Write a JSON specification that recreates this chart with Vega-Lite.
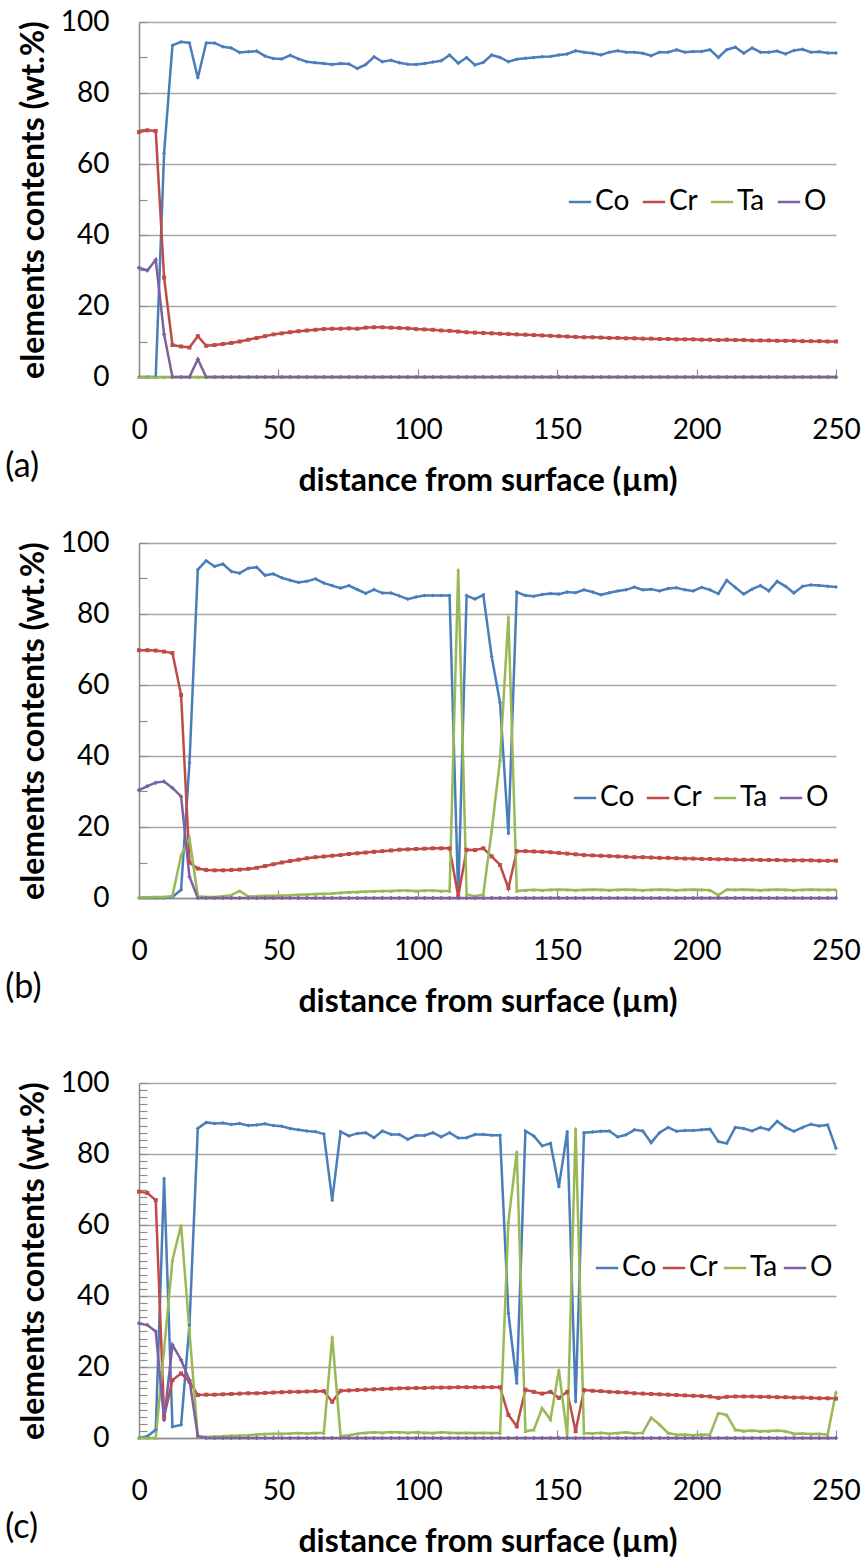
{
"$schema": "https://vega.github.io/schema/vega-lite/v6.json",
"padding": {"left": 5, "top": 8, "right": 5, "bottom": 0},
"background": "white",
"datasets": {"d": [
{"p":"a","x":0,"Co":0,"Cr":69.0,"Ta":0,"O":30.8},
{"p":"a","x":3,"Co":0,"Cr":69.5,"Ta":0,"O":30.0},
{"p":"a","x":6,"Co":0,"Cr":69.3,"Ta":0,"O":33.0},
{"p":"a","x":9,"Co":63,"Cr":28.0,"Ta":0,"O":12.0},
{"p":"a","x":12,"Co":93.4,"Cr":9.0,"Ta":0,"O":0},
{"p":"a","x":15.1,"Co":94.4,"Cr":8.6,"Ta":0,"O":0},
{"p":"a","x":18.1,"Co":94.1,"Cr":8.3,"Ta":0,"O":0},
{"p":"a","x":21.1,"Co":84.3,"Cr":11.5,"Ta":0,"O":5.0},
{"p":"a","x":24.1,"Co":94.1,"Cr":8.8,"Ta":0,"O":0},
{"p":"a","x":27.1,"Co":94.1,"Cr":9.0,"Ta":0,"O":0},
{"p":"a","x":30.1,"Co":93.0,"Cr":9.3,"Ta":0,"O":0},
{"p":"a","x":33.1,"Co":92.7,"Cr":9.6,"Ta":0,"O":0},
{"p":"a","x":36.1,"Co":91.4,"Cr":10.0,"Ta":0,"O":0},
{"p":"a","x":39.2,"Co":91.6,"Cr":10.5,"Ta":0,"O":0},
{"p":"a","x":42.2,"Co":91.8,"Cr":11.0,"Ta":0,"O":0},
{"p":"a","x":45.2,"Co":90.4,"Cr":11.5,"Ta":0,"O":0},
{"p":"a","x":48.2,"Co":89.7,"Cr":12.0,"Ta":0,"O":0},
{"p":"a","x":51.2,"Co":89.6,"Cr":12.3,"Ta":0,"O":0},
{"p":"a","x":54.2,"Co":90.6,"Cr":12.6,"Ta":0,"O":0},
{"p":"a","x":57.2,"Co":89.6,"Cr":12.9,"Ta":0,"O":0},
{"p":"a","x":60.2,"Co":88.8,"Cr":13.1,"Ta":0,"O":0},
{"p":"a","x":63.3,"Co":88.5,"Cr":13.3,"Ta":0,"O":0},
{"p":"a","x":66.3,"Co":88.3,"Cr":13.5,"Ta":0,"O":0},
{"p":"a","x":69.3,"Co":88.0,"Cr":13.6,"Ta":0,"O":0},
{"p":"a","x":72.3,"Co":88.3,"Cr":13.6,"Ta":0,"O":0},
{"p":"a","x":75.3,"Co":88.2,"Cr":13.7,"Ta":0,"O":0},
{"p":"a","x":78.3,"Co":86.9,"Cr":13.6,"Ta":0,"O":0},
{"p":"a","x":81.3,"Co":88.0,"Cr":13.9,"Ta":0,"O":0},
{"p":"a","x":84.3,"Co":90.2,"Cr":14.0,"Ta":0,"O":0},
{"p":"a","x":87.3,"Co":88.8,"Cr":14.0,"Ta":0,"O":0},
{"p":"a","x":90.4,"Co":89.2,"Cr":13.9,"Ta":0,"O":0},
{"p":"a","x":93.4,"Co":88.5,"Cr":13.8,"Ta":0,"O":0},
{"p":"a","x":96.4,"Co":88.1,"Cr":13.7,"Ta":0,"O":0},
{"p":"a","x":99.4,"Co":88.0,"Cr":13.5,"Ta":0,"O":0},
{"p":"a","x":102.4,"Co":88.3,"Cr":13.4,"Ta":0,"O":0},
{"p":"a","x":105.4,"Co":88.7,"Cr":13.3,"Ta":0,"O":0},
{"p":"a","x":108.4,"Co":89.1,"Cr":13.1,"Ta":0,"O":0},
{"p":"a","x":111.4,"Co":90.7,"Cr":13.0,"Ta":0,"O":0},
{"p":"a","x":114.5,"Co":88.4,"Cr":12.8,"Ta":0,"O":0},
{"p":"a","x":117.5,"Co":90.0,"Cr":12.6,"Ta":0,"O":0},
{"p":"a","x":120.5,"Co":87.9,"Cr":12.5,"Ta":0,"O":0},
{"p":"a","x":123.5,"Co":88.6,"Cr":12.4,"Ta":0,"O":0},
{"p":"a","x":126.5,"Co":90.7,"Cr":12.3,"Ta":0,"O":0},
{"p":"a","x":129.5,"Co":90.0,"Cr":12.2,"Ta":0,"O":0},
{"p":"a","x":132.5,"Co":88.8,"Cr":12.1,"Ta":0,"O":0},
{"p":"a","x":135.5,"Co":89.5,"Cr":12.0,"Ta":0,"O":0},
{"p":"a","x":138.6,"Co":89.8,"Cr":11.9,"Ta":0,"O":0},
{"p":"a","x":141.6,"Co":90.0,"Cr":11.8,"Ta":0,"O":0},
{"p":"a","x":144.6,"Co":90.2,"Cr":11.7,"Ta":0,"O":0},
{"p":"a","x":147.6,"Co":90.3,"Cr":11.6,"Ta":0,"O":0},
{"p":"a","x":150.6,"Co":90.7,"Cr":11.5,"Ta":0,"O":0},
{"p":"a","x":153.6,"Co":91.0,"Cr":11.4,"Ta":0,"O":0},
{"p":"a","x":156.6,"Co":91.9,"Cr":11.3,"Ta":0,"O":0},
{"p":"a","x":159.6,"Co":91.5,"Cr":11.2,"Ta":0,"O":0},
{"p":"a","x":162.7,"Co":91.2,"Cr":11.2,"Ta":0,"O":0},
{"p":"a","x":165.7,"Co":90.7,"Cr":11.1,"Ta":0,"O":0},
{"p":"a","x":168.7,"Co":91.5,"Cr":11.0,"Ta":0,"O":0},
{"p":"a","x":171.7,"Co":91.9,"Cr":11.0,"Ta":0,"O":0},
{"p":"a","x":174.7,"Co":91.5,"Cr":10.9,"Ta":0,"O":0},
{"p":"a","x":177.7,"Co":91.5,"Cr":10.9,"Ta":0,"O":0},
{"p":"a","x":180.7,"Co":91.2,"Cr":10.8,"Ta":0,"O":0},
{"p":"a","x":183.7,"Co":90.5,"Cr":10.8,"Ta":0,"O":0},
{"p":"a","x":186.7,"Co":91.5,"Cr":10.7,"Ta":0,"O":0},
{"p":"a","x":189.8,"Co":91.5,"Cr":10.7,"Ta":0,"O":0},
{"p":"a","x":192.8,"Co":92.2,"Cr":10.6,"Ta":0,"O":0},
{"p":"a","x":195.8,"Co":91.5,"Cr":10.6,"Ta":0,"O":0},
{"p":"a","x":198.8,"Co":91.7,"Cr":10.6,"Ta":0,"O":0},
{"p":"a","x":201.8,"Co":91.7,"Cr":10.5,"Ta":0,"O":0},
{"p":"a","x":204.8,"Co":92.2,"Cr":10.5,"Ta":0,"O":0},
{"p":"a","x":207.8,"Co":90.0,"Cr":10.4,"Ta":0,"O":0},
{"p":"a","x":210.8,"Co":92.2,"Cr":10.5,"Ta":0,"O":0},
{"p":"a","x":213.9,"Co":92.9,"Cr":10.4,"Ta":0,"O":0},
{"p":"a","x":216.9,"Co":91.2,"Cr":10.4,"Ta":0,"O":0},
{"p":"a","x":219.9,"Co":92.7,"Cr":10.3,"Ta":0,"O":0},
{"p":"a","x":222.9,"Co":91.5,"Cr":10.3,"Ta":0,"O":0},
{"p":"a","x":225.9,"Co":91.5,"Cr":10.3,"Ta":0,"O":0},
{"p":"a","x":228.9,"Co":91.8,"Cr":10.2,"Ta":0,"O":0},
{"p":"a","x":231.9,"Co":91.0,"Cr":10.2,"Ta":0,"O":0},
{"p":"a","x":234.9,"Co":92.0,"Cr":10.2,"Ta":0,"O":0},
{"p":"a","x":238,"Co":92.3,"Cr":10.1,"Ta":0,"O":0},
{"p":"a","x":241,"Co":91.5,"Cr":10.1,"Ta":0,"O":0},
{"p":"a","x":244,"Co":91.6,"Cr":10.1,"Ta":0,"O":0},
{"p":"a","x":247,"Co":91.3,"Cr":10.0,"Ta":0,"O":0},
{"p":"a","x":250,"Co":91.3,"Cr":10.0,"Ta":0,"O":0},
{"p":"b","x":0,"Co":0,"Cr":69.8,"Ta":0.2,"O":30.4},
{"p":"b","x":3,"Co":0,"Cr":69.8,"Ta":0.2,"O":31.5},
{"p":"b","x":6,"Co":0,"Cr":69.7,"Ta":0.3,"O":32.5},
{"p":"b","x":9,"Co":0,"Cr":69.4,"Ta":0.3,"O":32.8},
{"p":"b","x":12,"Co":0.3,"Cr":69.0,"Ta":0.6,"O":31.0},
{"p":"b","x":15.1,"Co":2.3,"Cr":57.2,"Ta":12.1,"O":28.6},
{"p":"b","x":18.1,"Co":38,"Cr":10.0,"Ta":16.8,"O":6.0},
{"p":"b","x":21.1,"Co":92.5,"Cr":8.3,"Ta":0.5,"O":0},
{"p":"b","x":24.1,"Co":95.0,"Cr":7.9,"Ta":0.3,"O":0},
{"p":"b","x":27.1,"Co":93.4,"Cr":7.8,"Ta":0.3,"O":0},
{"p":"b","x":30.1,"Co":94.1,"Cr":7.8,"Ta":0.5,"O":0},
{"p":"b","x":33.1,"Co":92.0,"Cr":7.9,"Ta":0.8,"O":0},
{"p":"b","x":36.1,"Co":91.5,"Cr":8.0,"Ta":2.0,"O":0},
{"p":"b","x":39.2,"Co":92.9,"Cr":8.2,"Ta":0.4,"O":0},
{"p":"b","x":42.2,"Co":93.2,"Cr":8.5,"Ta":0.5,"O":0},
{"p":"b","x":45.2,"Co":90.9,"Cr":9.0,"Ta":0.6,"O":0},
{"p":"b","x":48.2,"Co":91.3,"Cr":9.5,"Ta":0.6,"O":0},
{"p":"b","x":51.2,"Co":90.2,"Cr":10.0,"Ta":0.7,"O":0},
{"p":"b","x":54.2,"Co":89.5,"Cr":10.4,"Ta":0.8,"O":0},
{"p":"b","x":57.2,"Co":88.9,"Cr":10.8,"Ta":0.9,"O":0},
{"p":"b","x":60.2,"Co":89.2,"Cr":11.2,"Ta":1.0,"O":0},
{"p":"b","x":63.3,"Co":89.9,"Cr":11.5,"Ta":1.1,"O":0},
{"p":"b","x":66.3,"Co":88.7,"Cr":11.7,"Ta":1.2,"O":0},
{"p":"b","x":69.3,"Co":88.0,"Cr":11.9,"Ta":1.3,"O":0},
{"p":"b","x":72.3,"Co":87.3,"Cr":12.1,"Ta":1.5,"O":0},
{"p":"b","x":75.3,"Co":88.0,"Cr":12.4,"Ta":1.6,"O":0},
{"p":"b","x":78.3,"Co":86.9,"Cr":12.6,"Ta":1.7,"O":0},
{"p":"b","x":81.3,"Co":85.8,"Cr":12.8,"Ta":1.8,"O":0},
{"p":"b","x":84.3,"Co":86.9,"Cr":13.0,"Ta":1.9,"O":0},
{"p":"b","x":87.3,"Co":85.9,"Cr":13.2,"Ta":2.0,"O":0},
{"p":"b","x":90.4,"Co":85.9,"Cr":13.4,"Ta":2.0,"O":0},
{"p":"b","x":93.4,"Co":85.1,"Cr":13.6,"Ta":2.1,"O":0},
{"p":"b","x":96.4,"Co":84.2,"Cr":13.7,"Ta":2.1,"O":0},
{"p":"b","x":99.4,"Co":84.8,"Cr":13.8,"Ta":2.0,"O":0},
{"p":"b","x":102.4,"Co":85.2,"Cr":13.9,"Ta":2.1,"O":0},
{"p":"b","x":105.4,"Co":85.2,"Cr":14.0,"Ta":2.1,"O":0},
{"p":"b","x":108.4,"Co":85.2,"Cr":14.0,"Ta":2.0,"O":0},
{"p":"b","x":111.4,"Co":85.2,"Cr":14.0,"Ta":2.0,"O":0},
{"p":"b","x":114.5,"Co":0,"Cr":0.5,"Ta":92.5,"O":0},
{"p":"b","x":117.5,"Co":85.2,"Cr":13.6,"Ta":1.0,"O":0},
{"p":"b","x":120.5,"Co":84.2,"Cr":13.5,"Ta":0.5,"O":0},
{"p":"b","x":123.5,"Co":85.4,"Cr":14.0,"Ta":1.0,"O":0},
{"p":"b","x":126.5,"Co":68.0,"Cr":11.7,"Ta":19.0,"O":0},
{"p":"b","x":129.5,"Co":55.0,"Cr":9.3,"Ta":39.0,"O":0},
{"p":"b","x":132.5,"Co":18.2,"Cr":2.8,"Ta":79.3,"O":0},
{"p":"b","x":135.5,"Co":86.2,"Cr":13.2,"Ta":2.0,"O":0},
{"p":"b","x":138.6,"Co":85.2,"Cr":13.2,"Ta":2.2,"O":0},
{"p":"b","x":141.6,"Co":85.0,"Cr":13.1,"Ta":2.3,"O":0},
{"p":"b","x":144.6,"Co":85.5,"Cr":13.0,"Ta":2.2,"O":0},
{"p":"b","x":147.6,"Co":85.8,"Cr":12.9,"Ta":2.3,"O":0},
{"p":"b","x":150.6,"Co":85.6,"Cr":12.7,"Ta":2.4,"O":0},
{"p":"b","x":153.6,"Co":86.2,"Cr":12.5,"Ta":2.3,"O":0},
{"p":"b","x":156.6,"Co":86.0,"Cr":12.3,"Ta":2.2,"O":0},
{"p":"b","x":159.6,"Co":86.8,"Cr":12.1,"Ta":2.3,"O":0},
{"p":"b","x":162.7,"Co":86.2,"Cr":12.0,"Ta":2.4,"O":0},
{"p":"b","x":165.7,"Co":85.4,"Cr":11.9,"Ta":2.3,"O":0},
{"p":"b","x":168.7,"Co":86.0,"Cr":11.8,"Ta":2.2,"O":0},
{"p":"b","x":171.7,"Co":86.5,"Cr":11.7,"Ta":2.3,"O":0},
{"p":"b","x":174.7,"Co":86.8,"Cr":11.6,"Ta":2.4,"O":0},
{"p":"b","x":177.7,"Co":87.6,"Cr":11.5,"Ta":2.3,"O":0},
{"p":"b","x":180.7,"Co":86.8,"Cr":11.5,"Ta":2.2,"O":0},
{"p":"b","x":183.7,"Co":87.0,"Cr":11.4,"Ta":2.3,"O":0},
{"p":"b","x":186.7,"Co":86.5,"Cr":11.3,"Ta":2.4,"O":0},
{"p":"b","x":189.8,"Co":87.2,"Cr":11.3,"Ta":2.3,"O":0},
{"p":"b","x":192.8,"Co":87.4,"Cr":11.2,"Ta":2.2,"O":0},
{"p":"b","x":195.8,"Co":86.8,"Cr":11.1,"Ta":2.3,"O":0},
{"p":"b","x":198.8,"Co":86.5,"Cr":11.1,"Ta":2.4,"O":0},
{"p":"b","x":201.8,"Co":87.5,"Cr":11.0,"Ta":2.3,"O":0},
{"p":"b","x":204.8,"Co":86.8,"Cr":11.0,"Ta":2.2,"O":0},
{"p":"b","x":207.8,"Co":85.7,"Cr":10.9,"Ta":0.8,"O":0},
{"p":"b","x":210.8,"Co":89.5,"Cr":10.9,"Ta":2.4,"O":0},
{"p":"b","x":213.9,"Co":87.5,"Cr":10.8,"Ta":2.3,"O":0},
{"p":"b","x":216.9,"Co":85.6,"Cr":10.8,"Ta":2.4,"O":0},
{"p":"b","x":219.9,"Co":87.0,"Cr":10.8,"Ta":2.3,"O":0},
{"p":"b","x":222.9,"Co":88.0,"Cr":10.7,"Ta":2.2,"O":0},
{"p":"b","x":225.9,"Co":86.5,"Cr":10.7,"Ta":2.3,"O":0},
{"p":"b","x":228.9,"Co":89.2,"Cr":10.7,"Ta":2.4,"O":0},
{"p":"b","x":231.9,"Co":87.8,"Cr":10.6,"Ta":2.3,"O":0},
{"p":"b","x":234.9,"Co":85.9,"Cr":10.6,"Ta":2.2,"O":0},
{"p":"b","x":238,"Co":87.8,"Cr":10.6,"Ta":2.3,"O":0},
{"p":"b","x":241,"Co":88.2,"Cr":10.6,"Ta":2.4,"O":0},
{"p":"b","x":244,"Co":88.0,"Cr":10.5,"Ta":2.3,"O":0},
{"p":"b","x":247,"Co":87.8,"Cr":10.5,"Ta":2.3,"O":0},
{"p":"b","x":250,"Co":87.6,"Cr":10.5,"Ta":2.3,"O":0},
{"p":"c","x":0,"Co":0,"Cr":69.4,"Ta":0,"O":32.3},
{"p":"c","x":3,"Co":0.5,"Cr":69.0,"Ta":0,"O":31.8},
{"p":"c","x":6,"Co":2.3,"Cr":67.0,"Ta":0,"O":30.0},
{"p":"c","x":9,"Co":73.1,"Cr":6.0,"Ta":25.0,"O":5.1},
{"p":"c","x":12,"Co":3.2,"Cr":16.3,"Ta":50.1,"O":26.2},
{"p":"c","x":15.1,"Co":3.7,"Cr":18.2,"Ta":60.0,"O":22.0},
{"p":"c","x":18.1,"Co":31.8,"Cr":15.9,"Ta":30.0,"O":16.3},
{"p":"c","x":21.1,"Co":87.2,"Cr":12.1,"Ta":0.5,"O":0.5},
{"p":"c","x":24.1,"Co":88.9,"Cr":12.2,"Ta":0.3,"O":0},
{"p":"c","x":27.1,"Co":88.6,"Cr":12.2,"Ta":0.4,"O":0},
{"p":"c","x":30.1,"Co":88.7,"Cr":12.3,"Ta":0.5,"O":0},
{"p":"c","x":33.1,"Co":88.3,"Cr":12.4,"Ta":0.6,"O":0},
{"p":"c","x":36.1,"Co":88.6,"Cr":12.5,"Ta":0.7,"O":0},
{"p":"c","x":39.2,"Co":88.0,"Cr":12.6,"Ta":0.8,"O":0},
{"p":"c","x":42.2,"Co":88.2,"Cr":12.6,"Ta":1.0,"O":0},
{"p":"c","x":45.2,"Co":88.5,"Cr":12.7,"Ta":1.1,"O":0},
{"p":"c","x":48.2,"Co":88.0,"Cr":12.8,"Ta":1.2,"O":0},
{"p":"c","x":51.2,"Co":87.8,"Cr":12.9,"Ta":1.2,"O":0},
{"p":"c","x":54.2,"Co":87.2,"Cr":13.0,"Ta":1.3,"O":0},
{"p":"c","x":57.2,"Co":86.8,"Cr":13.0,"Ta":1.4,"O":0},
{"p":"c","x":60.2,"Co":86.5,"Cr":13.1,"Ta":1.3,"O":0},
{"p":"c","x":63.3,"Co":86.3,"Cr":13.2,"Ta":1.4,"O":0},
{"p":"c","x":66.3,"Co":85.6,"Cr":13.2,"Ta":1.4,"O":0},
{"p":"c","x":69.3,"Co":67.0,"Cr":10.2,"Ta":28.5,"O":0},
{"p":"c","x":72.3,"Co":86.3,"Cr":13.3,"Ta":0.5,"O":0},
{"p":"c","x":75.3,"Co":85.1,"Cr":13.4,"Ta":0.8,"O":0},
{"p":"c","x":78.3,"Co":85.8,"Cr":13.5,"Ta":1.2,"O":0},
{"p":"c","x":81.3,"Co":86.0,"Cr":13.6,"Ta":1.5,"O":0},
{"p":"c","x":84.3,"Co":84.6,"Cr":13.7,"Ta":1.6,"O":0},
{"p":"c","x":87.3,"Co":86.5,"Cr":13.8,"Ta":1.5,"O":0},
{"p":"c","x":90.4,"Co":85.5,"Cr":13.9,"Ta":1.7,"O":0},
{"p":"c","x":93.4,"Co":85.5,"Cr":14.0,"Ta":1.6,"O":0},
{"p":"c","x":96.4,"Co":84.1,"Cr":14.0,"Ta":1.5,"O":0},
{"p":"c","x":99.4,"Co":85.2,"Cr":14.1,"Ta":1.6,"O":0},
{"p":"c","x":102.4,"Co":85.2,"Cr":14.1,"Ta":1.5,"O":0},
{"p":"c","x":105.4,"Co":86.0,"Cr":14.2,"Ta":1.4,"O":0},
{"p":"c","x":108.4,"Co":84.8,"Cr":14.2,"Ta":1.6,"O":0},
{"p":"c","x":111.4,"Co":86.0,"Cr":14.2,"Ta":1.5,"O":0},
{"p":"c","x":114.5,"Co":84.5,"Cr":14.3,"Ta":1.4,"O":0},
{"p":"c","x":117.5,"Co":84.6,"Cr":14.3,"Ta":1.5,"O":0},
{"p":"c","x":120.5,"Co":85.5,"Cr":14.3,"Ta":1.4,"O":0},
{"p":"c","x":123.5,"Co":85.5,"Cr":14.3,"Ta":1.5,"O":0},
{"p":"c","x":126.5,"Co":85.3,"Cr":14.3,"Ta":1.4,"O":0},
{"p":"c","x":129.5,"Co":85.3,"Cr":14.3,"Ta":1.4,"O":0},
{"p":"c","x":132.5,"Co":35.1,"Cr":6.5,"Ta":60.9,"O":0},
{"p":"c","x":135.5,"Co":15.4,"Cr":3.3,"Ta":80.7,"O":0},
{"p":"c","x":138.6,"Co":86.5,"Cr":13.6,"Ta":1.9,"O":0},
{"p":"c","x":141.6,"Co":85.1,"Cr":13.0,"Ta":2.3,"O":0},
{"p":"c","x":144.6,"Co":82.3,"Cr":12.5,"Ta":8.4,"O":0},
{"p":"c","x":147.6,"Co":83.0,"Cr":13.0,"Ta":5.2,"O":0},
{"p":"c","x":150.6,"Co":70.8,"Cr":11.3,"Ta":19.2,"O":0},
{"p":"c","x":153.6,"Co":86.3,"Cr":13.0,"Ta":0.5,"O":0},
{"p":"c","x":156.6,"Co":10.2,"Cr":1.9,"Ta":87.2,"O":0},
{"p":"c","x":159.6,"Co":86.0,"Cr":13.5,"Ta":1.4,"O":0},
{"p":"c","x":162.7,"Co":86.2,"Cr":13.3,"Ta":1.3,"O":0},
{"p":"c","x":165.7,"Co":86.4,"Cr":13.2,"Ta":1.5,"O":0},
{"p":"c","x":168.7,"Co":86.5,"Cr":13.0,"Ta":1.2,"O":0},
{"p":"c","x":171.7,"Co":84.8,"Cr":12.9,"Ta":1.4,"O":0},
{"p":"c","x":174.7,"Co":85.4,"Cr":12.8,"Ta":1.6,"O":0},
{"p":"c","x":177.7,"Co":86.8,"Cr":12.6,"Ta":1.3,"O":0},
{"p":"c","x":180.7,"Co":86.5,"Cr":12.5,"Ta":1.5,"O":0},
{"p":"c","x":183.7,"Co":83.2,"Cr":12.4,"Ta":5.7,"O":0},
{"p":"c","x":186.7,"Co":86.0,"Cr":12.3,"Ta":3.8,"O":0},
{"p":"c","x":189.8,"Co":87.5,"Cr":12.2,"Ta":1.4,"O":0},
{"p":"c","x":192.8,"Co":86.4,"Cr":12.1,"Ta":0.9,"O":0},
{"p":"c","x":195.8,"Co":86.6,"Cr":12.0,"Ta":1.0,"O":0},
{"p":"c","x":198.8,"Co":86.6,"Cr":11.9,"Ta":0.8,"O":0},
{"p":"c","x":201.8,"Co":86.8,"Cr":11.8,"Ta":1.0,"O":0},
{"p":"c","x":204.8,"Co":87.0,"Cr":11.7,"Ta":0.9,"O":0},
{"p":"c","x":207.8,"Co":83.5,"Cr":11.3,"Ta":7.0,"O":0},
{"p":"c","x":210.8,"Co":83.0,"Cr":11.6,"Ta":6.5,"O":0},
{"p":"c","x":213.9,"Co":87.5,"Cr":11.7,"Ta":2.3,"O":0},
{"p":"c","x":216.9,"Co":87.2,"Cr":11.7,"Ta":2.0,"O":0},
{"p":"c","x":219.9,"Co":86.5,"Cr":11.7,"Ta":2.1,"O":0},
{"p":"c","x":222.9,"Co":87.5,"Cr":11.6,"Ta":1.9,"O":0},
{"p":"c","x":225.9,"Co":86.8,"Cr":11.6,"Ta":2.0,"O":0},
{"p":"c","x":228.9,"Co":89.2,"Cr":11.5,"Ta":2.1,"O":0},
{"p":"c","x":231.9,"Co":87.5,"Cr":11.5,"Ta":1.9,"O":0},
{"p":"c","x":234.9,"Co":86.4,"Cr":11.4,"Ta":1.2,"O":0},
{"p":"c","x":238,"Co":87.5,"Cr":11.4,"Ta":1.3,"O":0},
{"p":"c","x":241,"Co":88.4,"Cr":11.3,"Ta":1.1,"O":0},
{"p":"c","x":244,"Co":87.9,"Cr":11.2,"Ta":1.2,"O":0},
{"p":"c","x":247,"Co":88.2,"Cr":11.2,"Ta":0.9,"O":0},
{"p":"c","x":250,"Co":81.6,"Cr":11.1,"Ta":13.0,"O":0}
]},
"resolve": {"legend": {"color": "independent"}},
"spacing": 52,
"vconcat": [
{
"resolve": {"legend": {"color": "independent"}},
"spacing": 33,
"vconcat": [
{
"data": {"name": "d"},
"width": 697, "height": 355,
"transform": [{"filter": "datum.p === 'a'"}, {"fold": ["Co", "Cr", "Ta", "O"], "as": ["el", "v"]}],
"title": {"text": "(a)", "orient": "bottom", "anchor": "start", "frame": "bounds", "dy": -50, "dx": -12},
"encoding": {
"x": {"field": "x", "type": "quantitative", "scale": {"domain": [0, 250], "nice": false}, "axis": {"values": [0, 50, 100, 150, 200, 250], "title": "distance from surface (µm)"}},
"y": {"field": "v", "type": "quantitative", "scale": {"domain": [0, 100], "nice": false}, "axis": {"values": [0, 10, 20, 30, 40, 50, 60, 70, 80, 90, 100], "labelExpr": "datum.value % 20 === 0 ? datum.label : ''", "gridColor": {"condition": {"test": "datum.value % 20 === 0", "value": "#a6a6a6"}, "value": "rgba(0,0,0,0)"}, "title": "elements contents (wt.%)"}},
"color": {"field": "el", "type": "nominal", "scale": {"domain": ["Co", "Cr", "Ta", "O"], "range": ["#4A7EBB", "#BE4B48", "#98B954", "#7D60A0"]}, "legend": {"orient": "none", "legendX": 427, "legendY": 166, "direction": "horizontal", "title": null, "columnPadding": 7}}
},
"layer": [
{"mark": {"type": "line", "strokeWidth": 2.5}},
{"mark": {"type": "point", "filled": true, "size": 16, "opacity": 1}, "encoding": {"shape": {"field": "el", "type": "nominal", "scale": {"domain": ["Co", "Cr", "Ta", "O"], "range": ["diamond", "square", "triangle-up", "cross"]}, "legend": null}}}
]
},
{
"data": {"name": "d"},
"width": 697, "height": 355,
"transform": [{"filter": "datum.p === 'b'"}, {"fold": ["Co", "Cr", "Ta", "O"], "as": ["el", "v"]}],
"title": {"text": "(b)", "orient": "bottom", "anchor": "start", "frame": "bounds", "dy": -50, "dx": -12},
"encoding": {
"x": {"field": "x", "type": "quantitative", "scale": {"domain": [0, 250], "nice": false}, "axis": {"values": [0, 50, 100, 150, 200, 250], "title": "distance from surface (µm)"}},
"y": {"field": "v", "type": "quantitative", "scale": {"domain": [0, 100], "nice": false}, "axis": {"values": [0, 10, 20, 30, 40, 50, 60, 70, 80, 90, 100], "labelExpr": "datum.value % 20 === 0 ? datum.label : ''", "gridColor": {"condition": {"test": "datum.value % 20 === 0", "value": "#a6a6a6"}, "value": "rgba(0,0,0,0)"}, "title": "elements contents (wt.%)"}},
"color": {"field": "el", "type": "nominal", "scale": {"domain": ["Co", "Cr", "Ta", "O"], "range": ["#4A7EBB", "#BE4B48", "#98B954", "#7D60A0"]}, "legend": {"orient": "none", "legendX": 432, "legendY": 241, "direction": "horizontal", "title": null, "columnPadding": 6}}
},
"layer": [
{"mark": {"type": "line", "strokeWidth": 2.5}},
{"mark": {"type": "point", "filled": true, "size": 16, "opacity": 1}, "encoding": {"shape": {"field": "el", "type": "nominal", "scale": {"domain": ["Co", "Cr", "Ta", "O"], "range": ["diamond", "square", "triangle-up", "cross"]}, "legend": null}}}
]
}
]
},
{
"data": {"name": "d"},
"width": 697, "height": 355,
"transform": [{"filter": "datum.p === 'c'"}, {"fold": ["Co", "Cr", "Ta", "O"], "as": ["el", "v"]}],
"title": {"text": "(c)", "orient": "bottom", "anchor": "start", "frame": "bounds", "dy": -50, "dx": -12},
"encoding": {
"x": {"field": "x", "type": "quantitative", "scale": {"domain": [0, 250], "nice": false}, "axis": {"values": [0, 50, 100, 150, 200, 250], "title": "distance from surface (µm)"}},
"y": {"field": "v", "type": "quantitative", "scale": {"domain": [0, 100], "nice": false}, "axis": {"values": [0, 2, 4, 6, 8, 10, 12, 14, 16, 18, 20, 22, 24, 26, 28, 30, 32, 34, 36, 38, 40, 42, 44, 46, 48, 50, 52, 54, 56, 58, 60, 62, 64, 66, 68, 70, 72, 74, 76, 78, 80, 82, 84, 86, 88, 90, 92, 94, 96, 98, 100], "labelExpr": "datum.value % 20 === 0 ? datum.label : ''", "gridColor": {"condition": {"test": "datum.value % 20 === 0", "value": "#a6a6a6"}, "value": "rgba(0,0,0,0)"}, "title": "elements contents (wt.%)"}},
"color": {"field": "el", "type": "nominal", "scale": {"domain": ["Co", "Cr", "Ta", "O"], "range": ["#4A7EBB", "#BE4B48", "#98B954", "#7D60A0"]}, "legend": {"orient": "none", "legendX": 454, "legendY": 171, "direction": "horizontal", "title": null, "columnPadding": 0}}
},
"layer": [
{"mark": {"type": "line", "strokeWidth": 2.5}},
{"mark": {"type": "point", "filled": true, "size": 16, "opacity": 1}, "encoding": {"shape": {"field": "el", "type": "nominal", "scale": {"domain": ["Co", "Cr", "Ta", "O"], "range": ["diamond", "square", "triangle-up", "cross"]}, "legend": null}}}
]
}
],
"config": {
"font": "Lato",
"view": {"stroke": null},
"axis": {"domainColor": "#8c8c8c", "domainWidth": 1.5, "tickColor": "#8c8c8c", "tickWidth": 1.2, "tickSize": -8, "labelFont": "Lato", "labelColor": "#000000", "labelFontSize": 28, "titleFont": "Lato", "titleFontSize": 32, "titleFontWeight": "bold", "titleColor": "#000000", "gridColor": "#a6a6a6", "gridWidth": 1.5},
"axisX": {"grid": false, "labelFlush": false, "labelPadding": 47, "titlePadding": 21},
"axisY": {"grid": true, "labelPadding": 38, "titlePadding": 10},
"legend": {"symbolType": "stroke", "symbolStrokeWidth": 2.5, "symbolSize": 500, "labelFont": "Lato", "labelFontSize": 28, "labelColor": "#000000", "columnPadding": 6, "labelOffset": 1},
"title": {"font": "Lato", "fontSize": 34, "fontWeight": "normal", "color": "#000000"}
}
}
